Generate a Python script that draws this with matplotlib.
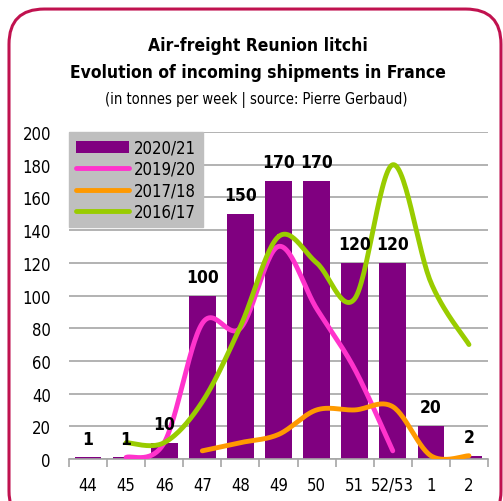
import matplotlib
matplotlib.use('Agg')
import matplotlib.pyplot as plt
import numpy as np
from matplotlib.patches import FancyBboxPatch, Patch
from matplotlib.lines import Line2D

plt.rcParams['font.family'] = ['DejaVu Sans']
plt.rcParams['font.stretch'] = 'condensed'

# weekly arrivals (tonnes)
weeks = ['44', '45', '46', '47', '48', '49', '50', '51', '52/53', '1', '2']
s2021 = [1, 1, 10, 100, 150, 170, 170, 120, 120, 20, 2]
s1920 = [None, 1, 10, 83, 80, 130, 92, 55, 5, None, None]
s1718 = [None, None, None, 5, 10, 15, 30, 30, 32, 2, 2]
s1617 = [None, 10, 10, 35, 81, 136, 120, 98, 180, 108, 70]

purple = '#800080'
pink = '#ff33cc'
orange = '#ff9900'
green = '#99cc00'


def smooth(xs, ys, sx=38.0, sy=1.635, n=30):
    # Catmull-Rom curve through the points, computed in screen-like units
    p = np.column_stack([np.asarray(xs) * sx, np.asarray(ys) * sy])
    p = np.vstack([p[0], p, p[-1]])
    out = []
    for i in range(1, len(p) - 2):
        p0, p1, p2, p3 = p[i - 1], p[i], p[i + 1], p[i + 2]
        t = np.linspace(0, 1, n)[:, None]
        c = 0.5 * ((2 * p1) + (-p0 + p2) * t + (2 * p0 - 5 * p1 + 4 * p2 - p3) * t ** 2
                   + (-p0 + 3 * p1 - 3 * p2 + p3) * t ** 3)
        out.append(c)
    out = np.vstack(out)
    return out[:, 0] / sx, out[:, 1] / sy


fig = plt.figure(figsize=(5.03, 5.02), dpi=100)

# rounded frame around the chart
frame = FancyBboxPatch((9 / 503, -0.05), 492 / 503, 1.03,
                       boxstyle='round,pad=0,rounding_size=0.07',
                       transform=fig.transFigure, facecolor='white',
                       edgecolor='#c0124f', linewidth=2.2, zorder=-5)
fig.patches.append(frame)

fig.text(0.513, 0.909, 'Air-freight Reunion litchi', ha='center', va='center',
         fontsize=12.5, fontweight='bold')
fig.text(0.513, 0.855, 'Evolution of incoming shipments in France', ha='center',
         va='center', fontsize=12.5, fontweight='bold')
fig.text(0.510, 0.801, '(in tonnes per week | source: Pierre Gerbaud)', ha='center',
         va='center', fontsize=10.5)

ax = fig.add_axes([69 / 503, 42 / 502, 419 / 503, 327 / 502])
ax.set_facecolor('none')
x = np.arange(len(weeks))

bars = ax.bar(x, s2021, width=0.7, color=purple, zorder=2)
for xi, v in zip(x, s2021):
    ax.text(xi, v + 6, str(v), ha='center', va='bottom', fontsize=12.5,
            fontweight='bold', zorder=5)

for series, col in [(s1920, pink), (s1718, orange), (s1617, green)]:
    xs = [i for i, v in enumerate(series) if v is not None]
    ys = [v for v in series if v is not None]
    cx, cy = smooth(xs, ys)
    ax.plot(cx, cy, color=col, linewidth=3.5, solid_capstyle='round', zorder=3)

ax.set_xlim(-0.5, len(weeks) - 0.5)
ax.set_ylim(0, 200)
ax.set_yticks(range(0, 201, 20))
ax.yaxis.grid(True, color='#a6a6a6', linewidth=1.2)
ax.set_axisbelow(True)
ax.tick_params(axis='y', length=0, labelsize=12, pad=13)
ax.set_xticks(x)
ax.set_xticklabels(weeks, fontsize=12)
ax.set_xticks(np.arange(-0.5, len(weeks)), minor=True)
ax.tick_params(axis='x', which='major', length=0, pad=12)
ax.tick_params(axis='x', which='minor', length=6, color='#a6a6a6', width=1.2)
for s in ['left', 'right', 'top']:
    ax.spines[s].set_visible(False)
ax.spines['bottom'].set_color('#a6a6a6')
ax.spines['bottom'].set_linewidth(1.2)

handles = [Patch(facecolor=purple),
           Line2D([], [], color=pink, linewidth=3.5, solid_capstyle='round'),
           Line2D([], [], color=orange, linewidth=3.5, solid_capstyle='round'),
           Line2D([], [], color=green, linewidth=3.5, solid_capstyle='round')]
leg = ax.legend(handles, ['2020/21', '2019/20', '2017/18', '2016/17'],
                loc='upper left', bbox_to_anchor=(0.0, 1.0), fontsize=12,
                frameon=True, fancybox=False, facecolor='#bfbfbf',
                edgecolor='#bfbfbf', framealpha=1, borderaxespad=0,
                handlelength=3.2, labelspacing=0.2, handletextpad=0.3)
leg.set_zorder(6)

plt.savefig('out.png', dpi=100)
